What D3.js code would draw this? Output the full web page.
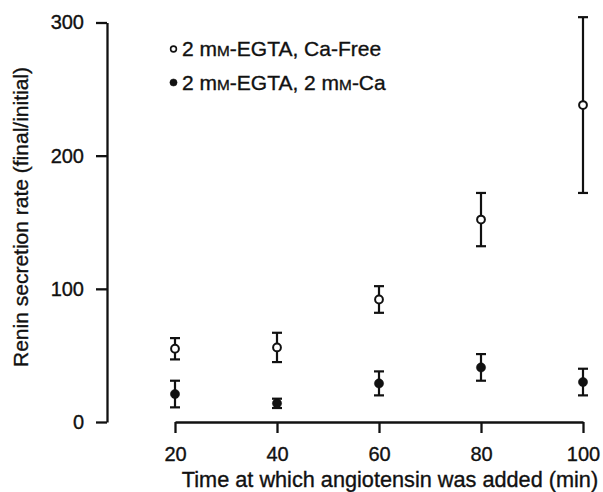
<!DOCTYPE html>
<html>
<head>
<meta charset="utf-8">
<script src="https://cdn.jsdelivr.net/npm/d3@7"></script>
<style>
  html, body { margin: 0; padding: 0; background: #fff; }
  svg { display: block; font-family: "Liberation Sans", Arial, Helvetica, sans-serif; }
  text { stroke: #111; stroke-width: 0.35px; }
</style>
</head>
<body>
<svg id="chart" width="603" height="492"></svg>
<script>
// ---- data ----
const times = [20, 40, 60, 80, 100];
const caFreeMean = [55, 56, 92, 152, 238];
const caFreeErr = [8, 11, 10, 20, 66];
const caMean = [21, 14, 29, 41, 30];
const caErr = [10, 3.5, 9, 10, 10];
const xTicks = [20, 40, 60, 80, 100];
const yTicks = [0, 100, 200, 300];
const legendLabels = [["2 m", "M", "-EGTA, Ca-Free"], ["2 m", "M", "-EGTA, 2 m", "M", "-Ca"]];
const xTitle = "Time at which angiotensin was added (min)";
const yTitle = "Renin secretion rate (final/initial)";

const svg = d3.select("#chart");
const ink = "#111";

const x = d3.scaleLinear().domain([20, 100]).range([175, 583]);
const y = d3.scaleLinear().domain([0, 300]).range([422, 22.5]);

// y axis
const yAxis = svg.append("g").attr("transform", "translate(107,0)")
  .call(d3.axisLeft(y).tickValues(yTicks).tickSize(11).tickSizeOuter(0).tickPadding(12));
// x axis
const xAxis = svg.append("g").attr("transform", "translate(0,422)")
  .call(d3.axisBottom(x).tickValues(xTicks).tickSize(11).tickSizeOuter(0).tickPadding(14));

[yAxis, xAxis].forEach(g => {
  g.select(".domain").attr("stroke", ink).attr("stroke-width", 2.3);
  g.selectAll(".tick line").attr("stroke", ink).attr("stroke-width", 2.3);
  g.selectAll(".tick text").attr("fill", ink).attr("font-size", 20)
    .attr("font-family", "'Liberation Sans', Arial, sans-serif");
});

// axis titles
svg.append("text").attr("x", 390).attr("y", 487).attr("text-anchor", "middle")
  .attr("font-size", 21.7).attr("fill", ink).text(xTitle);
svg.append("text").attr("transform", "translate(28,217) rotate(-90)")
  .attr("text-anchor", "middle").attr("font-size", 21).attr("fill", ink).text(yTitle);

// error bars + markers
function drawSeries(means, errs, filled) {
  const g = svg.append("g");
  times.forEach((t, i) => {
    const cx = x(t), lo = y(means[i] - errs[i]), hi = y(means[i] + errs[i]);
    g.append("line").attr("x1", cx).attr("x2", cx).attr("y1", lo).attr("y2", hi)
      .attr("stroke", ink).attr("stroke-width", 2.2);
    [lo, hi].forEach(yy => g.append("line").attr("x1", cx - 5).attr("x2", cx + 5)
      .attr("y1", yy).attr("y2", yy).attr("stroke", ink).attr("stroke-width", 2.2));
    g.append("circle").attr("cx", cx).attr("cy", y(means[i])).attr("r", filled ? 4.6 : 3.9)
      .attr("fill", filled ? ink : "#fff").attr("stroke", ink).attr("stroke-width", filled ? 0.5 : 2);
  });
}
drawSeries(caFreeMean, caFreeErr, false);
drawSeries(caMean, caErr, true);

// legend
const legY = [49, 82.5];
legendLabels.forEach((parts, i) => {
  svg.append("circle").attr("cx", 173.5).attr("cy", legY[i]).attr("r", i === 0 ? 2.9 : 3.6)
    .attr("fill", i === 0 ? "#fff" : ink).attr("stroke", ink).attr("stroke-width", i === 0 ? 1.6 : 0.5);
  const t = svg.append("text").attr("x", 182).attr("y", legY[i] + 7).attr("font-size", 21).attr("fill", ink);
  parts.forEach((p, k) => {
    const ts = t.append("tspan").text(p);
    if (p === "M") ts.attr("font-size", "73%");
  });
});
</script>
</body>
</html>
